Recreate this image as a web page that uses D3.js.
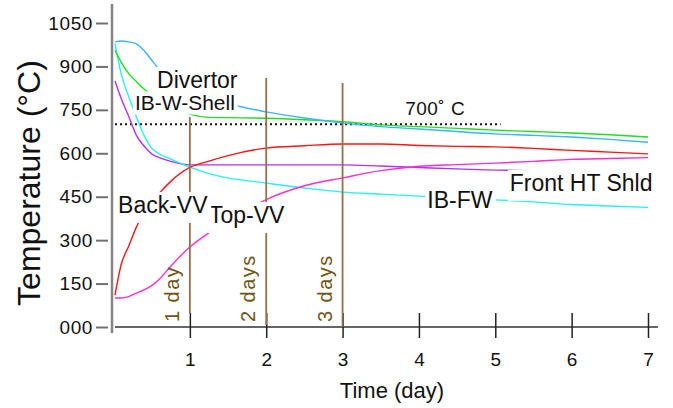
<!DOCTYPE html>
<html>
<head>
<meta charset="utf-8">
<script src="https://cdn.jsdelivr.net/npm/d3@7"></script>
<style>
  body { margin: 0; background: #fff; }
  svg text { font-family: "Liberation Sans", Arial, Helvetica, sans-serif; }
</style>
</head>
<body>
<div id="chart"></div>
<script>
// time points (days)
var days = [0.02, 0.1, 0.2, 0.3, 0.4, 0.5, 0.6, 0.75, 1.0, 1.25, 1.5, 2.0, 2.5, 3.0, 3.5, 4.0, 4.5, 5.0, 5.5, 6.0, 6.5, 7.0];

// temperatures (C)
var divertor  = [985, 988, 985, 978, 955, 922, 890, 860, 825, 795, 772, 743, 722, 705, 692, 684, 675, 667, 662, 656, 648, 638];
var ibWShell  = [955, 915, 875, 848, 822, 801, 785, 765, 735, 724, 723, 721, 716, 709, 698, 692, 686, 680, 675, 670, 664, 656];
var ibFW      = [980, 875, 795, 725, 662, 618, 598, 580, 552, 530, 515, 497, 480, 466, 459, 452, 446, 439, 432, 423, 418, 413];
var frontHT   = [850, 790, 727, 662, 625, 598, 585, 572, 560, 560, 560, 560, 560, 560, 556, 551, 546, 542, 540, 537, 535, 532];
var backVV    = [110, 215, 280, 345, 395, 430, 462, 503, 551, 573, 592, 618, 626, 632, 632, 627, 624, 622, 617, 610, 604, 598];
var topVV     = [100, 100, 105, 117, 128, 143, 165, 210, 276, 325, 365, 440, 488, 515, 540, 555, 561, 566, 572, 579, 582, 585];

var yTicks = [0, 150, 300, 450, 600, 750, 900, 1050];
var yTickLabels = ["000", "150", "300", "450", "600", "750", "900", "1050"];
var xTicks = [1, 2, 3, 4, 5, 6, 7];

var limitTemp = 700;
var dayMarks = [1, 2, 3];
var dayNames = ["1 day", "2 days", "3 days"];
var dayTop = [725, 860, 843];
var dayBottom = [48, 7, 0];

var series = [
    { name: "Front HT Shld", values: frontHT, color: "#b030ff" },
    { name: "IB-FW", values: ibFW, color: "#22f2f2" },
    { name: "Top-VV", values: topVV, color: "#ff2ccc" },
    { name: "Back-VV", values: backVV, color: "#ff1414" },
    { name: "IB-W-Shell", values: ibWShell, color: "#1ee01e" },
    { name: "Divertor", values: divertor, color: "#3ab4ff" }
];

var svgWidth = 673;
var svgHeight = 408;

var svg = d3.select("#chart")
    .append("svg")
    .attr("width", svgWidth)
    .attr("height", svgHeight);

var x = d3.scaleLinear().domain([0, 7]).range([113.5, 648]);
var y = d3.scaleLinear().domain([0, 1050]).range([327, 23]);

// y axis
svg.append("line")
    .attr("x1", 112).attr("x2", 112)
    .attr("y1", 4).attr("y2", 333)
    .attr("stroke", "#858585")
    .attr("stroke-width", 2.5);

var leftAxis = d3.axisLeft(y)
    .tickValues(yTicks)
    .tickFormat((d, i) => yTickLabels[i])
    .tickSize(12)
    .tickPadding(3);

var yG = svg.append("g")
    .attr("transform", "translate(108,0)")
    .call(leftAxis);
yG.select(".domain").remove();
yG.selectAll(".tick line").attr("stroke", "#707070").attr("stroke-width", 2);
yG.selectAll(".tick text")
    .attr("fill", "#111")
    .style("font-size", "19px")
    .style("letter-spacing", "0.6px");

// x axis
svg.append("line")
    .attr("x1", x(0.02)).attr("x2", x(7.13))
    .attr("y1", y(0)).attr("y2", y(0))
    .attr("stroke", "#333")
    .attr("stroke-width", 1.5);

var bottomAxis = d3.axisBottom(x).tickValues(xTicks).tickFormat(d3.format("d"));
var xG = svg.append("g")
    .attr("transform", `translate(0, ${y(0)})`)
    .call(bottomAxis);
xG.select(".domain").remove();
xG.selectAll(".tick line")
    .attr("y1", -14).attr("y2", 11)
    .attr("stroke", "#222").attr("stroke-width", 1.5);
xG.selectAll(".tick text")
    .attr("y", 26)
    .attr("fill", "#111")
    .style("font-size", "19px");

// axis titles
svg.append("text")
    .attr("transform", "translate(40,183) rotate(-90)")
    .attr("text-anchor", "middle")
    .style("font-size", "32px")
    .attr("fill", "#111")
    .text("Temperature (°C)");

svg.append("text")
    .attr("x", 392).attr("y", 398)
    .attr("text-anchor", "middle")
    .style("font-size", "22px")
    .attr("fill", "#111")
    .text("Time (day)");

// 700 C limit
svg.append("line")
    .attr("x1", x(0.02)).attr("x2", x(5.07))
    .attr("y1", y(limitTemp)).attr("y2", y(limitTemp))
    .attr("stroke", "#111")
    .attr("stroke-width", 2)
    .attr("stroke-dasharray", "2,3");

svg.append("text")
    .attr("x", x(3.82)).attr("y", y(732))
    .style("font-size", "19px")
    .style("letter-spacing", "0.5px")
    .attr("fill", "#111")
    .text("700˚ C");

// curves
var line = d3.line()
    .x((d, i) => x(days[i]))
    .y(d => y(d))
    .curve(d3.curveMonotoneX);

svg.selectAll(".curve")
    .data(series)
    .enter()
    .append("path")
    .attr("class", "curve")
    .attr("d", d => line(d.values))
    .attr("fill", "none")
    .attr("stroke", d => d.color)
    .attr("stroke-width", 1.4);

// day markers
dayMarks.forEach((d, i) => {
    svg.append("line")
        .attr("x1", x(d)).attr("x2", x(d))
        .attr("y1", y(dayTop[i])).attr("y2", y(dayBottom[i]))
        .attr("stroke", "#93704b")
        .attr("stroke-width", 1.8);
    svg.append("text")
        .attr("transform", `translate(${x(d) - 11},${y(17)}) rotate(-90)`)
        .style("font-size", "20px")
        .style("letter-spacing", "1.5px")
        .attr("fill", "#6e5614")
        .text(dayNames[i]);
});

// curve labels with white boxes (drawn in this order so Back-VV sits over Top-VV)
var labels = [
    { text: "Divertor", d: 0.57, t: 826, size: 23, pad: 4 },
    { text: "IB-W-Shell", d: 0.28, t: 748, size: 21, pad: 0 },
    { text: "Top-VV", d: 1.25, t: 359, size: 23, pad: 5 },
    { text: "Back-VV", d: 0.06, t: 394, size: 23, pad: 5 },
    { text: "IB-FW", d: 4.11, t: 411, size: 23, pad: 5 },
    { text: "Front HT Shld", d: 5.19, t: 470, size: 23, pad: 5 }
];

labels.forEach(l => {
    var g = svg.append("g");
    var rect = g.append("rect").attr("fill", "#fff");
    var txt = g.append("text")
        .attr("x", x(l.d)).attr("y", y(l.t))
        .style("font-size", l.size + "px")
        .attr("fill", "#111")
        .text(l.text);
    var bb = txt.node().getBBox();
    rect.attr("x", bb.x - 2).attr("y", bb.y)
        .attr("width", bb.width + 5)
        .attr("height", bb.height + l.pad);
});
</script>
</body>
</html>
